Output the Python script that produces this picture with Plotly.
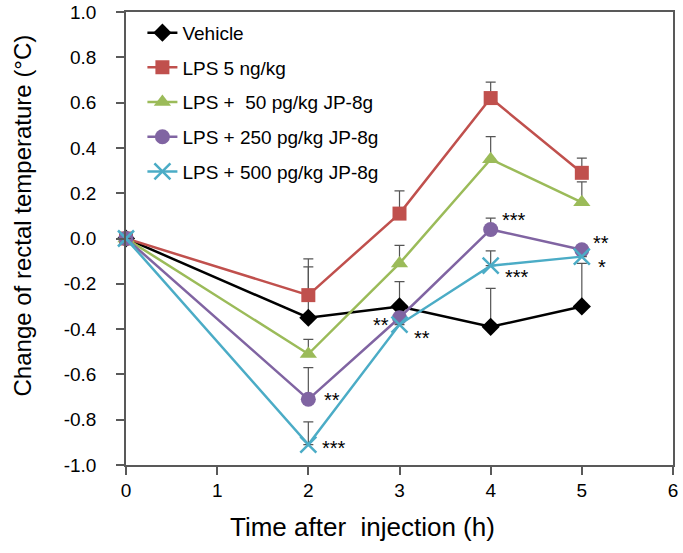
import plotly.graph_objects as go

# ---- data ----
hours = [0, 2, 3, 4, 5]
series_names = ["Vehicle", "LPS 5 ng/kg", "LPS +  50 pg/kg JP-8g",
                "LPS + 250 pg/kg JP-8g", "LPS + 500 pg/kg JP-8g"]
vehicle = [0, -0.35, -0.30, -0.39, -0.30]
vehicle_err = [None, 0.225, 0.11, 0.17, 0.19]
lps5 = [0, -0.25, 0.11, 0.62, 0.29]
lps5_err = [None, 0.16, 0.10, 0.07, 0.065]
jp50 = [0, -0.51, -0.11, 0.35, 0.16]
jp50_err = [None, 0.065, 0.08, 0.10, 0.09]
jp250 = [0, -0.71, -0.35, 0.04, -0.05]
jp250_err = [None, 0.14, None, 0.05, None]
jp500 = [0, -0.91, -0.38, -0.12, -0.08]
jp500_err = [None, 0.10, None, 0.065, None]

x_ticks = [0, 1, 2, 3, 4, 5, 6]
y_ticks = [-1.0, -0.8, -0.6, -0.4, -0.2, 0.0, 0.2, 0.4, 0.6, 0.8, 1.0]
x_title = "Time after  injection (h)"
y_title = "Change of rectal temperature (°C)"

# significance marks: (series index, time index, text)
sig_marks = [
    (3, 1, "**"), (4, 1, "***"),
    (3, 2, "**"), (4, 2, "**"),
    (3, 3, "***"), (4, 3, "***"),
    (3, 4, "**"), (4, 4, "*"),
]

# ---- styles ----
values = [vehicle, lps5, jp50, jp250, jp500]
errors = [vehicle_err, lps5_err, jp50_err, jp250_err, jp500_err]
colors = ["#000000", "#C0504D", "#9BBB59", "#8064A2", "#4BACC6"]
symbols = ["diamond", "square", "triangle-up", "circle", "x-thin"]
sizes = [14, 14, 15, 15, 16]
# pixel offsets for significance marks (xanchor, xshift, yshift)
mark_offsets = [("left", 14, -1), ("left", 12, -3),
                ("right", -9, -7), ("left", 12, -13),
                ("left", 9, 9), ("left", 12, -11),
                ("left", 9, 7), ("left", 14, -10)]

FONT = "Arial, Liberation Sans, sans-serif"

fig = go.Figure()
for i in range(5):
    marker = dict(symbol=symbols[i], size=sizes[i], color=colors[i])
    if symbols[i] == "x-thin":
        marker["line"] = dict(color=colors[i], width=2.5)
    fig.add_trace(go.Scatter(
        x=hours, y=values[i], mode="lines+markers", name=series_names[i],
        line=dict(color=colors[i], width=2.5), marker=marker,
        legendgroup=f"g{i}", cliponaxis=False,
        error_y=dict(type="data", symmetric=False, array=errors[i],
                     arrayminus=[0] * len(hours), color="#555555",
                     thickness=1.2, width=5),
    ))

for (si, ti, txt), (xa, xs, ys) in zip(sig_marks, mark_offsets):
    fig.add_annotation(x=hours[ti], y=values[si][ti], text=txt, showarrow=False,
                       xanchor=xa, yanchor="middle", xshift=xs, yshift=ys,
                       font=dict(family=FONT, size=20, color="#000000"))

# axis titles (placed as annotations to match the reference offsets)
fig.add_annotation(xref="paper", yref="paper", x=0.433, y=-0.137, text=x_title,
                   showarrow=False, xanchor="center", yanchor="middle",
                   font=dict(family=FONT, size=26, color="#000000"))
fig.add_annotation(xref="paper", yref="paper", x=-0.19, y=0.551, text=y_title,
                   showarrow=False, xanchor="center", yanchor="middle", textangle=-90,
                   font=dict(family=FONT, size=24, color="#000000"))

axis_common = dict(showgrid=False, zeroline=False, showline=True, automargin=False,
                   linecolor="#595959", linewidth=1.5, mirror=True,
                   ticks="outside", ticklen=8, tickcolor="#595959", tickwidth=1.5,
                   ticklabeloverflow="allow",
                   tickfont=dict(family=FONT, size=19, color="#000000"))

fig.update_xaxes(range=[0, 6], tickvals=x_ticks, ticktext=[str(v) for v in x_ticks],
                 ticklabelstandoff=-1, **axis_common)
fig.update_yaxes(range=[-1, 1], tickvals=y_ticks, ticktext=[f"{v:.1f}" for v in y_ticks],
                 ticklabelstandoff=16, **axis_common)

fig.update_layout(
    width=683, height=553,
    margin=dict(l=126, r=10, t=12, b=88, autoexpand=False),
    plot_bgcolor="white", paper_bgcolor="white",
    font=dict(family=FONT, color="#000000"),
    showlegend=True,
    legend=dict(x=0.030, y=0.996, xanchor="left", yanchor="top",
                font=dict(family=FONT, size=19, color="#000000"),
                bgcolor="rgba(0,0,0,0)", tracegroupgap=7, itemwidth=30),
)

# remove the default 8px page margin so the figure fills the window exactly
fig.write_html("out.html", config={"displayModeBar": False},
               post_script="document.body.style.margin='0';")
